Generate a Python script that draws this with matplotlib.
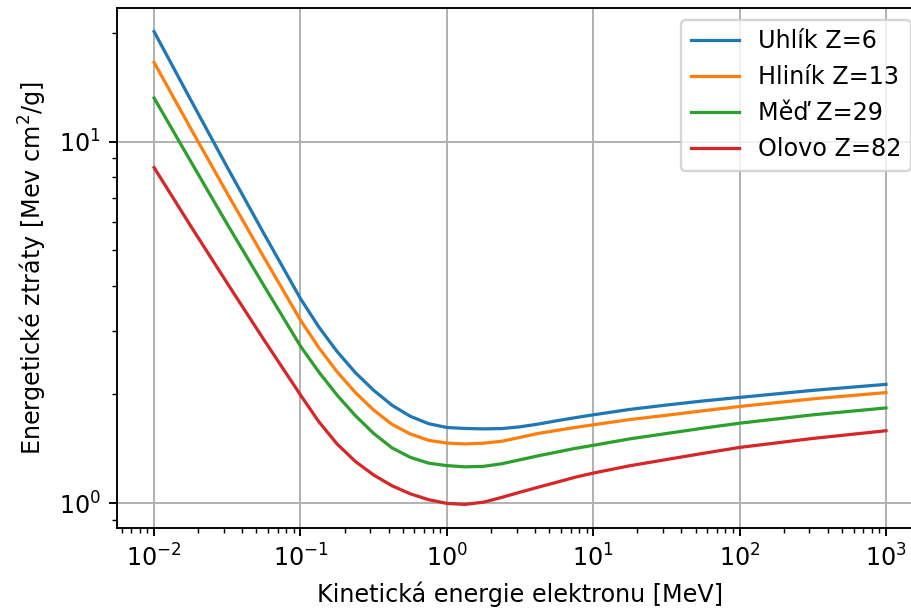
import matplotlib
matplotlib.use("Agg")
import matplotlib.pyplot as plt

energy = [0.01, 0.0178, 0.0316, 0.0562, 0.1, 0.1334, 0.1778, 0.2371, 0.3162,
          0.4217, 0.5623, 0.75, 1.0, 1.334, 1.778, 2.371, 3.162, 4.217, 5.623,
          7.5, 10, 17.8, 31.6, 56.2, 100, 316, 1000]

uhlik = [20.12, 13.03, 8.49, 5.57, 3.68, 3.074, 2.629, 2.298, 2.054, 1.868,
         1.741, 1.661, 1.621, 1.611, 1.607, 1.610, 1.628, 1.657, 1.692, 1.725,
         1.757, 1.819, 1.870, 1.919, 1.963, 2.053, 2.133]
hlinik = [16.54, 10.86, 7.19, 4.79, 3.21, 2.694, 2.311, 2.025, 1.811, 1.654,
          1.556, 1.494, 1.468, 1.460, 1.467, 1.485, 1.522, 1.561, 1.591, 1.621,
          1.649, 1.705, 1.752, 1.803, 1.853, 1.945, 2.024]
med = [13.19, 8.81, 5.91, 4.00, 2.72, 2.308, 1.992, 1.748, 1.561, 1.424,
       1.341, 1.292, 1.272, 1.262, 1.266, 1.287, 1.320, 1.354, 1.386, 1.419,
       1.447, 1.508, 1.560, 1.614, 1.666, 1.757, 1.836]
olovo = [8.47, 5.84, 4.06, 2.835, 1.994, 1.682, 1.460, 1.306, 1.198, 1.119,
         1.063, 1.024, 1.000, 0.994, 1.008, 1.039, 1.074, 1.109, 1.144, 1.181,
         1.213, 1.271, 1.322, 1.375, 1.428, 1.512, 1.588]

labels = ["Uhlík Z=6", "Hliník Z=13", "Měď Z=29", "Olovo Z=82"]
series = [uhlik, hlinik, med, olovo]

DPI = 172
fig = plt.figure(figsize=(912 / DPI, 614 / DPI), dpi=DPI)
left, right, top, bottom = 117.5, 922.6, 8, 528
ax = fig.add_axes([left / 912, 1 - bottom / 614, (right - left) / 912, (bottom - top) / 614])

for lab, vals in zip(labels, series):
    ax.plot(energy, vals, label=lab, linewidth=1.35)

ax.set_xscale("log")
ax.set_yscale("log")
ax.grid(True)
ax.set_xlabel("Kinetická energie elektronu [MeV]")
ax.set_ylabel("Energetické ztráty [Mev cm$^2$/g]")
ax.legend(loc="upper right")

fig.savefig("out.png", dpi=DPI)
